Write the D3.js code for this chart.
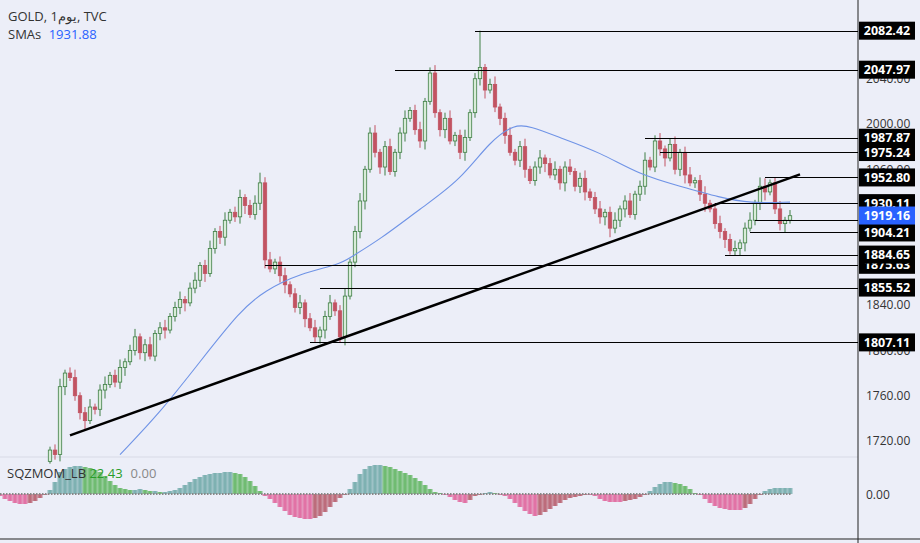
<!DOCTYPE html>
<html><head><meta charset="utf-8">
<script src="https://cdn.jsdelivr.net/npm/d3@7"></script>
<style>body{margin:0;background:#eceef8;font-family:"Open Sans",Roboto,sans-serif}</style>
</head><body><svg id="c" width="920" height="543"></svg>
<script>
const closes=[1712,1708,1768,1780,1776,1760,1745,1738,1750,1748,
1765,1770,1778,1772,1785,1790,1800,1812,1798,1805,
1795,1815,1820,1818,1830,1838,1845,1842,1855,1862,
1875,1868,1890,1905,1900,1915,1922,1918,1935,1928,
1920,1930,1948,1880,1872,1878,1866,1858,1850,1838,
1842,1828,1820,1812,1818,1830,1842,1835,1812,1848,
1878,1905,1932,1960,1992,1975,1962,1980,1958,1975,
1992,2005,2012,1995,1985,2020,2045,2010,1995,2005,
1985,1990,1975,1988,2010,2040,2050,2030,2035,2015,
2005,1990,1975,1968,1980,1960,1950,1962,1970,1965,
1955,1960,1948,1962,1958,1945,1952,1940,1935,1925,
1918,1922,1908,1915,1925,1932,1920,1938,1945,1968,
1962,1985,1978,1970,1982,1960,1975,1955,1948,1950,
1938,1930,1925,1912,1905,1898,1888,1890,1895,1908,
1915,1930,1945,1940,1948,1925,1912,1915,1919];
const firstOpen=1702;
const highOverride={42:1957,76:2050,86:2082.42,121:1990,142:1952.8};
const lowOverride={0:1700,58:1807.11,136:1884.65,112:1900};
const smaIdx=[14,22,30,38,43,50,58,60,66,74,82,88,93,96,102,110,118,126,134,140,148];
const smaVal=[1708,1745,1790,1835,1853,1868,1876,1882,1898,1925,1950,1985,2000,1998,1988,1975,1955,1945,1935,1930,1931];
const momentum=[-2,-5,-7,-9,-10,-10,-9,-7,-4,-1,
4,12,22,25,27,28,28,27,26,24,
22,18,13,9,6,5,4,4,5,4,
3,3,2,2,3,4,6,9,12,15,
17,19,20,21,21,22,22,21,20,17,
13,8,3,-2,-5,-9,-13,-17,-21,-23,
-24,-25,-25,-24,-22,-18,-13,-8,-4,-1,
5,12,20,25,28,29,29,28,27,25,
23,21,19,16,13,9,5,2,1,-1,
-3,-6,-8,-9,-6,-2,-1,1,2,1,
-1,-2,-5,-9,-13,-17,-20,-22,-21,-18,
-15,-12,-9,-6,-4,-3,-2,-1,-1,-2,
-5,-7,-8,-8,-8,-7,-6,-5,-3,-1,
3,7,10,12,12,11,10,8,5,1,
-1,-5,-9,-12,-14,-15,-16,-16,-16,-14,
-10,-5,-1,3,5,6,6,6,6];
const levels=[[2082.42,85,true],[2047.97,69,true],[1987.87,119,true],[1975.24,122,true],[1952.80,143,true],[1930.11,133,true],[1915.2,141,false],[1904.21,140,true],[1884.65,135,true],[1875.63,43,true],[1855.52,54,true],[1807.11,52,true]];
const priceTicks=[2040,2000,1960,1920,1880,1840,1800,1760,1720];
const trend=[[4,1725],[150,1955.5]];
const lastPrice=1919.16;

const svg=d3.select("#c");
const W=858;
const x=d3.scaleLinear().domain([0,148]).range([50,790]);
const y=d3.scaleLinear().domain([1720,2000]).range([441,124]);
const my=d3.scaleLinear().domain([0,1]).range([494,493]);
svg.append("rect").attr("width",920).attr("height",543).attr("fill","#eceef8");
// separators
svg.append("line").attr("x1",0).attr("x2",W).attr("y1",457).attr("y2",457).attr("stroke","#d8dae6");
svg.append("line").attr("x1",W).attr("x2",W).attr("y1",0).attr("y2",543).attr("stroke","#222").attr("stroke-width",1);
svg.append("line").attr("x1",0).attr("x2",920).attr("y1",539).attr("y2",539).attr("stroke","#222");
const ax=svg.append("g").attr("transform",`translate(${W},0)`).call(d3.axisRight(y).tickValues(priceTicks).tickSize(0).tickFormat(d3.format(".2f")));
ax.select(".domain").remove();
ax.selectAll("text").attr("x",8).attr("fill","#333").style("font-size","12px").style("font-family","Open Sans");
// candles
const g=svg.append("g");
closes.forEach((c,i)=>{
  const o=i?closes[i-1]:firstOpen;
  const hi=highOverride[i]??Math.max(o,c)+3+(i%3)*2;
  const lo=lowOverride[i]??Math.min(o,c)-3-(i%4)*1.5;
  const up=c>=o, col=up?"#3f7f45":"#c25362";
  const cx=x(i);
  g.append("line").attr("x1",cx).attr("x2",cx).attr("y1",y(hi)).attr("y2",y(lo)).attr("stroke",col);
  g.append("rect").attr("x",cx-1.7).attr("width",3.4).attr("y",y(Math.max(o,c))).attr("height",Math.max(1,Math.abs(y(o)-y(c))))
   .attr("fill",up?"#d8ecd8":"#c25362").attr("stroke",col).attr("stroke-width",0.8);
});
// sma
svg.append("path").datum(smaIdx.map((d,k)=>[d,smaVal[k]])).attr("fill","none").attr("stroke","#6f93e6").attr("stroke-width",1.1)
 .attr("d",d3.line().x(d=>x(d[0])).y(d=>y(d[1])).curve(d3.curveBasis));
// trend
svg.append("line").attr("x1",x(trend[0][0])).attr("y1",y(trend[0][1])).attr("x2",x(trend[1][0])).attr("y2",y(trend[1][1])).attr("stroke","#000").attr("stroke-width",2.5);
// levels
levels.forEach(([v,i])=>svg.append("line").attr("x1",x(i)).attr("x2",W).attr("y1",Math.round(y(v))+.5).attr("y2",Math.round(y(v))+.5).attr("stroke","#000").attr("stroke-width",1));
function tag(v,bg){const yy=y(v);
 svg.append("rect").attr("x",W+1).attr("y",yy-9).attr("width",56).attr("height",18).attr("fill",bg);
 svg.append("text").attr("x",W+29).attr("y",yy+4.5).attr("text-anchor","middle").attr("fill","#fff").style("font-size","12.5px").style("font-weight","bold").text(v.toFixed(2));}
levels.filter(l=>l[2]).sort((a,b)=>a[0]-b[0]).forEach(l=>tag(l[0],"#000"));
tag(lastPrice,"#2962ff");
// momentum
const mg=svg.append("g");
momentum.forEach((m,k)=>{
  const i=k-10, prev=k?momentum[k-1]:m, cx=x(i);
  let col;
  if(m>=0) col=m>=prev?"#6fa8a8":"#5fb45f"; else col=m<=prev?"#e0609a":"#b65a6a";
  mg.append("rect").attr("x",cx-2.5).attr("width",5).attr("y",m>=0?my(m):my(0)).attr("height",Math.abs(my(m)-my(0))).attr("fill",col).attr("opacity",0.75);
  mg.append("line").attr("x1",cx).attr("x2",cx).attr("y1",my(0)).attr("y2",my(m)).attr("stroke",col).attr("stroke-width",1);
});
svg.append("line").attr("x1",0).attr("x2",x(148)+2).attr("y1",my(0)).attr("y2",my(0)).attr("stroke","#888").attr("stroke-width",2).attr("stroke-dasharray","1.5,1.5");
svg.append("text").attr("x",W+8).attr("y",499).attr("fill","#333").style("font-size","12px").text("0.00");
// legends
const t=svg.append("text").attr("x",8).attr("y",21).attr("fill","#333").style("font-size","13px");
t.append("tspan").text("GOLD, 1يوم, TVC");
const t2=svg.append("text").attr("x",8).attr("y",39).style("font-size","13px");
t2.append("tspan").attr("fill","#333").text("SMAs ");t2.append("tspan").attr("fill","#2962ff").attr("dx",4).text("1931.88");
const t3=svg.append("text").attr("x",7).attr("y",478).style("font-size","13px");
t3.append("tspan").attr("fill","#333").text("SQZMOM_LB ");t3.append("tspan").attr("fill","#2a9d2a").text("22.43");t3.append("tspan").attr("fill","#888").attr("dx",8).text("0.00");
</script></body></html>
